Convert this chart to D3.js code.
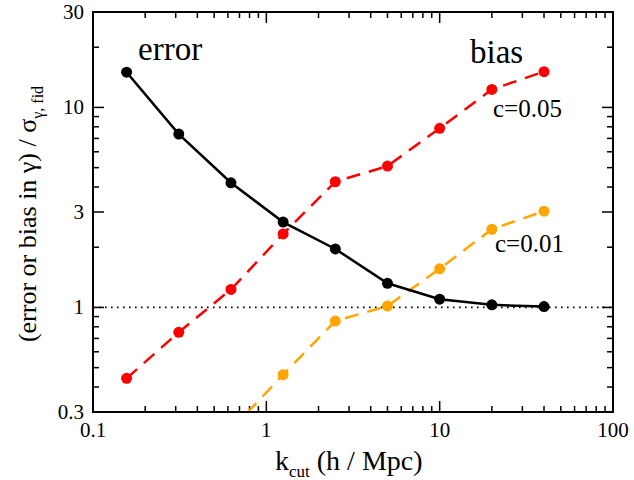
<!DOCTYPE html>
<html><head><meta charset="utf-8">
<script src="https://cdn.jsdelivr.net/npm/d3@7"></script>
<style>body{margin:0;background:#fff}svg{display:block}</style>
</head><body>
<svg id="c" width="634" height="480" font-family="Liberation Serif, Times New Roman, serif"></svg>
<script>
const kValues = [0.15625, 0.3125, 0.625, 1.25, 2.5, 5, 10, 20, 40];
const errorValues = [15.0, 7.36, 4.20, 2.67, 1.96, 1.32, 1.10, 1.03, 1.01];
const biasC005 = [0.442, 0.751, 1.23, 2.33, 4.25, 5.09, 7.86, 12.3, 15.1];
const kC001 = [0.625, 1.25, 2.5, 5, 10, 20, 40];
const biasC001 = [0.244, 0.461, 0.855, 1.016, 1.56, 2.46, 3.03];
const xTicks = [0.1, 1, 10, 100];
const xTickLabels = ["0.1", "1", "10", "100"];
const yTicks = [0.3, 1, 3, 10, 30];
const yTickLabels = ["0.3", "1", "3", "10", "30"];

const svg = d3.select("#c");
const L = 93, R = 613, T = 12, B = 412;
const x = d3.scaleLog().domain([0.1, 100]).range([L, R]);
const y = d3.scaleLog().domain([0.3, 30]).range([B, T]);

svg.append("defs").append("clipPath").attr("id", "clip")
  .append("rect").attr("x", L).attr("y", T).attr("width", R - L).attr("height", B - T);

const xMinor = [];
for (let d = 0.1; d < 100; d *= 10) for (let m = 2; m <= 9; m++) xMinor.push(d * m);
const yMinor = [];
for (let d = 0.1; d < 100; d *= 10) for (let m = 2; m <= 9; m++) { const v = d * m; if (v > 0.3 && v < 30 && ![1,3,10].includes(+v.toFixed(6))) yMinor.push(v); }

const ax = svg.append("g");
function tickLine(x1, y1, x2, y2) { ax.append("line").attr("x1", x1).attr("y1", y1).attr("x2", x2).attr("y2", y2).attr("stroke", "#000").attr("stroke-width", 1.5); }
xMinor.forEach(v => { tickLine(x(v), B, x(v), B - 6); tickLine(x(v), T, x(v), T + 6); });
xTicks.forEach(v => { tickLine(x(v), B, x(v), B - 11); tickLine(x(v), T, x(v), T + 11); });
yMinor.forEach(v => { tickLine(L, y(v), L + 6, y(v)); tickLine(R, y(v), R - 6, y(v)); });
yTicks.forEach(v => { tickLine(L, y(v), L + 11, y(v)); tickLine(R, y(v), R - 11, y(v)); });

xTicks.forEach((v, i) => ax.append("text").attr("x", x(v)).attr("y", B + 25).attr("text-anchor", "middle").attr("font-size", 21).text(xTickLabels[i]));
yTicks.forEach((v, i) => ax.append("text").attr("x", L - 9).attr("y", y(v) + 7).attr("text-anchor", "end").attr("font-size", 21).text(yTickLabels[i]));

svg.append("line").attr("x1", L).attr("x2", R).attr("y1", y(1)).attr("y2", y(1))
  .attr("stroke", "#000").attr("stroke-width", 1.8).attr("stroke-dasharray", "1.6,4.4");

const plot = svg.append("g").attr("clip-path", "url(#clip)");
function series(xs, ys, color, dash) {
  const pts = xs.map((k, i) => [k, ys[i]]);
  plot.append("path").datum(pts)
    .attr("d", d3.line().x(d => x(d[0])).y(d => y(d[1])))
    .attr("fill", "none").attr("stroke", color).attr("stroke-width", 2.5)
    .attr("stroke-dasharray", dash);
  plot.selectAll(null).data(pts).enter().append("circle")
    .attr("cx", d => x(d[0])).attr("cy", d => y(d[1])).attr("r", 5.5).attr("fill", color);
}
series(kValues, biasC005, "#ff0000", "14,9");
series(kC001, biasC001, "#ffa500", "14,9");
series(kValues, errorValues, "#000000", null);

svg.append("rect").attr("x", L).attr("y", T).attr("width", R - L).attr("height", B - T)
  .attr("fill", "none").attr("stroke", "#000").attr("stroke-width", 2);

svg.append("text").attr("x", 138).attr("y", 60).attr("font-size", 33).text("error");
svg.append("text").attr("x", 470).attr("y", 63).attr("font-size", 33).text("bias");
svg.append("text").attr("x", 493).attr("y", 117).attr("font-size", 25).text("c=0.05");
svg.append("text").attr("x", 495).attr("y", 252).attr("font-size", 25).text("c=0.01");

const xl = svg.append("text").attr("x", 275).attr("y", 470).attr("font-size", 28);
xl.append("tspan").text("k");
xl.append("tspan").attr("font-size", 17).attr("dy", 7).text("cut");
xl.append("tspan").attr("dy", -7).text(" (h / Mpc)");

const yl = svg.append("text").attr("transform", "translate(36,214) rotate(-90)").attr("text-anchor", "middle").attr("font-size", 26);
yl.append("tspan").text("(error or bias in γ) / σ");
yl.append("tspan").attr("font-size", 16).attr("dy", 7).text("γ, fid");
</script>
</body></html>
